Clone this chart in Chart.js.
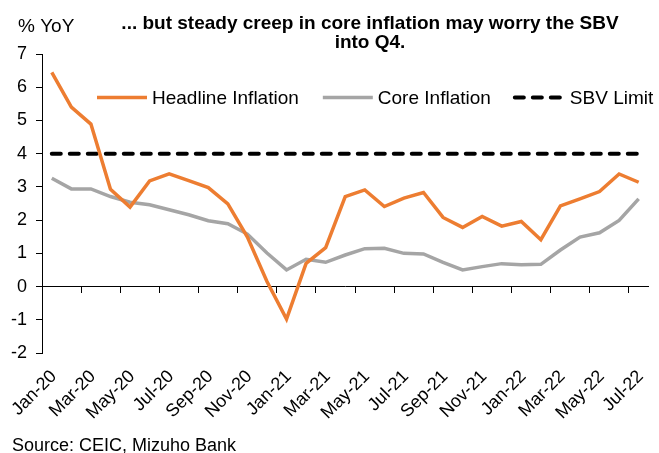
<!DOCTYPE html>
<html>
<head>
<meta charset="utf-8">
<script src="https://cdn.jsdelivr.net/npm/chart.js@4"></script>
<style>
  body { margin: 0; background: #fff; }
</style>
</head>
<body>
<canvas id="myChart" width="659" height="453"></canvas>
<script>
// monthly series, Jan-20 .. Jul-22
const MONTHS = ["Jan-20", "Feb-20", "Mar-20", "Apr-20", "May-20", "Jun-20", "Jul-20", "Aug-20",
  "Sep-20", "Oct-20", "Nov-20", "Dec-20", "Jan-21", "Feb-21", "Mar-21", "Apr-21", "May-21",
  "Jun-21", "Jul-21", "Aug-21", "Sep-21", "Oct-21", "Nov-21", "Dec-21", "Jan-22", "Feb-22",
  "Mar-22", "Apr-22", "May-22", "Jun-22", "Jul-22"]

const headline = [6.45, 5.40, 4.89, 2.93, 2.39, 3.18, 3.39, 3.19, 2.98, 2.49, 1.49, 0.15,
  -0.98, 0.70, 1.17, 2.71, 2.91, 2.41, 2.66, 2.83, 2.08, 1.78, 2.11, 1.82, 1.96, 1.41,
  2.43, 2.64, 2.86, 3.39, 3.14]

const core = [3.26, 2.94, 2.94, 2.71, 2.54, 2.46, 2.31, 2.16, 1.98, 1.89, 1.58, 1.01,
  0.50, 0.82, 0.73, 0.95, 1.14, 1.15, 1.00, 0.98, 0.73, 0.50, 0.60, 0.69, 0.66, 0.67,
  1.10, 1.49, 1.62, 1.99, 2.64]

const SBV_LIMIT = 4
const sbvLimit = MONTHS.map(() => SBV_LIMIT)

const Y_MIN = -2
const Y_MAX = 7

const TITLE_LINES = ["... but steady creep in core inflation may worry the SBV", "into Q4."]
const Y_UNIT = "% YoY"
const SOURCE = "Source: CEIC, Mizuho Bank"

const FONT = "'Liberation Sans', Arial, sans-serif"
Chart.defaults.font.family = FONT
Chart.defaults.color = "#000"

// title, unit label, legend and source note are painted straight onto the canvas
const extras = {
  id: "extras",
  afterDraw(chart) {
    const ctx = chart.ctx
    ctx.save()
    ctx.fillStyle = "#000"
    ctx.textBaseline = "alphabetic"

    ctx.font = "bold 19px " + FONT
    ctx.textAlign = "center"
    ctx.fillText(TITLE_LINES[0], 370, 29)
    ctx.fillText(TITLE_LINES[1], 370, 48)

    ctx.font = "19px " + FONT
    ctx.textAlign = "left"
    ctx.fillText(Y_UNIT, 18, 32)

    // legend row inside the plot
    let x = 97
    chart.data.datasets.forEach(ds => {
      ctx.beginPath()
      ctx.strokeStyle = ds.borderColor
      ctx.lineWidth = ds.borderWidth
      ctx.lineCap = ds.borderCapStyle || "butt"
      ctx.setLineDash(ds.borderDash || [])
      ctx.moveTo(x, 97.5)
      ctx.lineTo(x + 50, 97.5)
      ctx.stroke()
      ctx.setLineDash([])
      ctx.fillText(ds.label, x + 55, 104)
      x += 55 + ctx.measureText(ds.label).width + 24
    })

    ctx.font = "18px " + FONT
    ctx.fillText(SOURCE, 12, 451)
    ctx.restore()
  }
}

const ctx = document.getElementById("myChart").getContext("2d")
const chart = new Chart(ctx, {
  type: "line",
  data: {
    labels: MONTHS,
    datasets: [{
      label: "Headline Inflation",
      data: headline,
      borderColor: "#ED7D31",
      borderWidth: 3.5,
      pointRadius: 0,
      tension: 0
    }, {
      label: "Core Inflation",
      data: core,
      borderColor: "#A5A5A5",
      borderWidth: 3.5,
      pointRadius: 0,
      tension: 0
    }, {
      label: "SBV Limit",
      data: sbvLimit,
      borderColor: "#000",
      borderWidth: 4,
      borderDash: [9, 9],
      borderCapStyle: "round",
      pointRadius: 0
    }]
  },
  options: {
    responsive: false,
    animation: false,
    layout: { padding: { top: 54, right: 4, left: 0, bottom: 0 } },
    plugins: {
      legend: { display: false },
      title: { display: false },
      tooltip: { enabled: false }
    },
    scales: {
      x: {
        offset: true,
        grid: { display: false },
        border: { display: false },
        afterFit(scale) { scale.height = 100 },
        ticks: {
          autoSkip: false,
          minRotation: 45,
          maxRotation: 45,
          padding: 5,
          labelOffset: 2,
          font: { size: 18 },
          callback(value, index) { return index % 2 === 0 ? MONTHS[index] : "" }
        }
      },
      // zero line with tick marks every second month
      xZero: {
        axis: "x",
        type: "category",
        position: { y: 0 },
        offset: true,
        ticks: { display: false },
        border: { color: "#000", width: 1 },
        grid: {
          offset: true,
          drawOnChartArea: false,
          tickLength: 6,
          color: c => (c.index % 2 === 0 ? "#000" : "rgba(0,0,0,0)")
        }
      },
      y: {
        min: Y_MIN,
        max: Y_MAX,
        afterFit(scale) { scale.width = 42 },
        border: { color: "#000", width: 1 },
        grid: { drawOnChartArea: false, tickLength: 6, color: "#000" },
        ticks: { stepSize: 1, padding: 9, font: { size: 18 } }
      }
    }
  },
  plugins: [extras]
})
</script>
</body>
</html>
